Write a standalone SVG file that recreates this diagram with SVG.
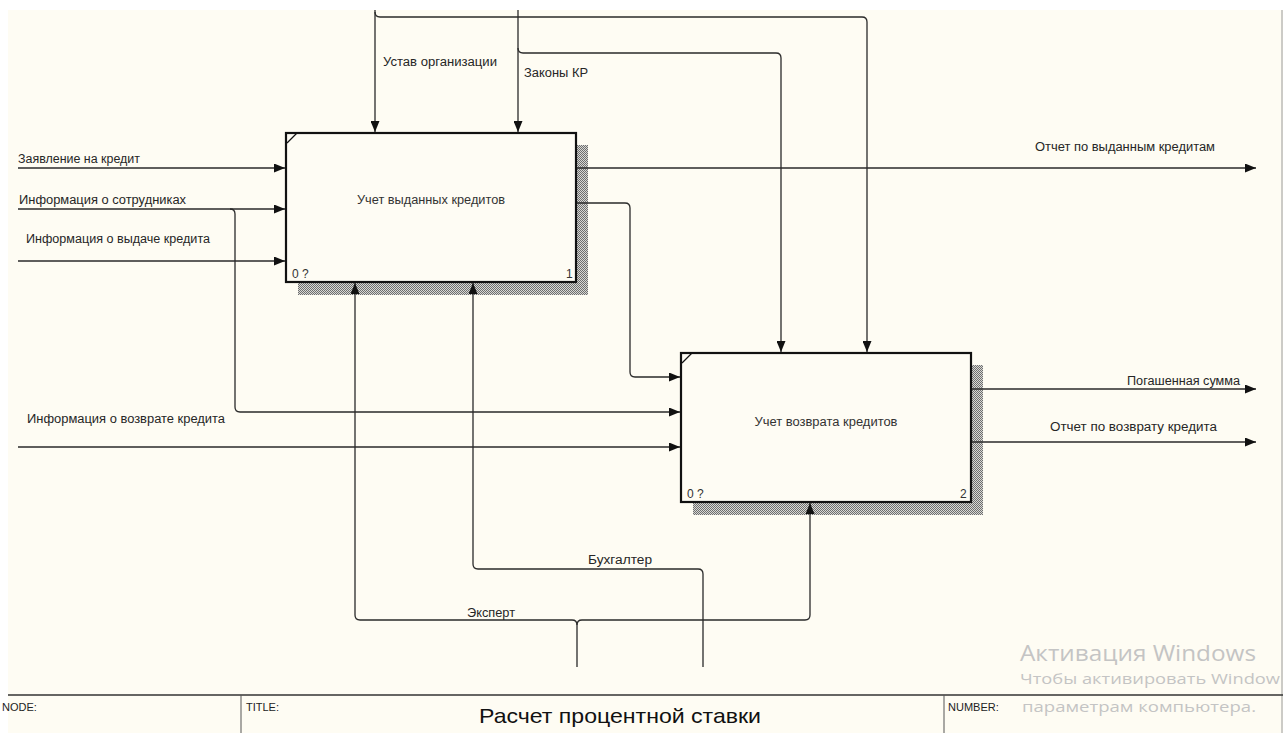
<svg xmlns="http://www.w3.org/2000/svg" width="1283" height="733" viewBox="0 0 1283 733">
<defs>
<style>
.lbl{font-family:"Liberation Sans",Arial,sans-serif;font-size:12px;fill:#262626;}
.ttl{font-family:"Liberation Sans",Arial,sans-serif;font-size:12px;fill:#333;}
.num{font-family:"Liberation Sans",Arial,sans-serif;font-size:12px;fill:#333;}
.ft{font-family:"Liberation Sans",Arial,sans-serif;font-size:11px;fill:#222;}
.wm{font-family:"Open Sans","Noto Sans",sans-serif;fill:#c4c4c4;}
.box{fill:#fefcf4;stroke:#111;stroke-width:2.2;}
.con{fill:none;stroke:#2a2a2a;stroke-width:1.3;}
.arr{fill:none;stroke:#2a2a2a;stroke-width:1.3;marker-end:url(#ah);}
</style>
<marker id="ah" markerUnits="userSpaceOnUse" markerWidth="11" markerHeight="9" refX="11" refY="4.5" orient="auto">
<path d="M0,0 L11,4.5 L0,9 z" fill="#111"/>
</marker>
<pattern id="hatch" width="2" height="2" patternUnits="userSpaceOnUse">
<rect width="2" height="2" fill="#d8d8d4"/>
<rect x="0" y="0" width="1" height="1" fill="#6e6e6e"/>
<rect x="1" y="1" width="1" height="1" fill="#6e6e6e"/>
</pattern>
</defs>
<rect x="0" y="0" width="1283" height="733" fill="#ffffff"/>
<rect x="8" y="10" width="1275" height="723" fill="#fefcf3"/>
<line x1="1282" y1="10" x2="1282" y2="733" stroke="#9a9a9a" stroke-width="1"/>

<g id="node1">
<rect x="298" y="145" width="290" height="150" fill="url(#hatch)"/>
<rect class="box" x="286" y="133" width="290" height="149"/>
<line x1="287" y1="143" x2="297" y2="133" stroke="#111" stroke-width="1.3"/>
<text class="ttl" x="431" y="204" text-anchor="middle" textLength="148" lengthAdjust="spacingAndGlyphs">Учет выданных кредитов</text>
<text class="num" x="292" y="278">0 ?</text>
<text class="num" x="566" y="278">1</text>
</g>

<g id="node2">
<rect x="693" y="365" width="290" height="150" fill="url(#hatch)"/>
<rect class="box" x="681" y="353" width="290" height="149"/>
<line x1="682" y1="363" x2="692" y2="353" stroke="#111" stroke-width="1.3"/>
<text class="ttl" x="826" y="426" text-anchor="middle" textLength="143" lengthAdjust="spacingAndGlyphs">Учет возврата кредитов</text>
<text class="num" x="687" y="498">0 ?</text>
<text class="num" x="960" y="498">2</text>
</g>

<g id="connectors">
<path class="arr" d="M375,10 V132"/>
<path class="arr" d="M375,12 Q375,17 380,17 H862 Q867,17 867,22 V352"/>
<path class="arr" d="M518,10 V132"/>
<path class="arr" d="M518,48 Q518,53 523,53 H776 Q781,53 781,58 V352"/>
<path class="arr" d="M18,168 H285"/>
<path class="arr" d="M18,209 H285"/>
<path class="arr" d="M230,209 Q235,209 235,214 V407 Q235,412 240,412 H680"/>
<path class="arr" d="M18,261 H285"/>
<path class="arr" d="M18,447 H680"/>
<path class="arr" d="M577,168 H1256"/>
<path class="arr" d="M577,203 H625 Q630,203 630,208 V372 Q630,377 635,377 H680"/>
<path class="arr" d="M972,389 H1256"/>
<path class="arr" d="M972,442 H1256"/>
<path class="con" d="M577,667 V625 Q577,620 572,620 H360 Q355,620 355,615 V400"/>
<path class="arr" d="M355,400 V283"/>
<path class="con" d="M577,625 Q577,620 582,620 H805 Q810,620 810,615 V560"/>
<path class="arr" d="M810,560 V503"/>
<path class="arr" d="M703,667 V574 Q703,569 698,569 H478 Q473,569 473,564 V283"/>
</g>

<g id="labels">
<text class="lbl" x="18" y="163" textLength="122" lengthAdjust="spacingAndGlyphs">Заявление на кредит</text>
<text class="lbl" x="19" y="204" textLength="167" lengthAdjust="spacingAndGlyphs">Информация о сотрудниках</text>
<text class="lbl" x="26" y="243" textLength="184" lengthAdjust="spacingAndGlyphs">Информация о выдаче кредита</text>
<text class="lbl" x="27" y="423" textLength="198" lengthAdjust="spacingAndGlyphs">Информация о возврате кредита</text>
<text class="lbl" x="383" y="66" textLength="114" lengthAdjust="spacingAndGlyphs">Устав организации</text>
<text class="lbl" x="524" y="77" textLength="64" lengthAdjust="spacingAndGlyphs">Законы КР</text>
<text class="lbl" x="1035" y="151" textLength="180" lengthAdjust="spacingAndGlyphs">Отчет по выданным кредитам</text>
<text class="lbl" x="1127" y="385" textLength="113" lengthAdjust="spacingAndGlyphs">Погашенная сумма</text>
<text class="lbl" x="1050" y="431" textLength="167" lengthAdjust="spacingAndGlyphs">Отчет по возврату кредита</text>
<text class="lbl" x="588" y="564" textLength="64" lengthAdjust="spacingAndGlyphs">Бухгалтер</text>
<text class="lbl" x="467" y="617" textLength="48" lengthAdjust="spacingAndGlyphs">Эксперт</text>
</g>

<g id="footer">
<line x1="8" y1="695" x2="1283" y2="695" stroke="#333" stroke-width="1.5"/>
<line x1="241" y1="695" x2="241" y2="733" stroke="#555" stroke-width="1"/>
<line x1="944" y1="695" x2="944" y2="733" stroke="#555" stroke-width="1"/>
<text class="ft" x="2" y="711">NODE:</text>
<text class="ft" x="246" y="711">TITLE:</text>
<text class="ft" x="948" y="711">NUMBER:</text>
<text x="620" y="723" text-anchor="middle" font-family="Liberation Sans, Arial, sans-serif" font-size="21" fill="#111" textLength="282" lengthAdjust="spacingAndGlyphs">Расчет процентной ставки</text>
</g>

<g id="watermark">
<text class="wm" x="1020" y="661" font-size="21" textLength="236" lengthAdjust="spacingAndGlyphs">Активация Windows</text>
<text class="wm" x="1020" y="684" font-size="14" textLength="260" lengthAdjust="spacingAndGlyphs">Чтобы активировать Window</text>
<text class="wm" x="1022" y="712" font-size="14" textLength="234" lengthAdjust="spacingAndGlyphs">параметрам компьютера.</text>
</g>
</svg>
